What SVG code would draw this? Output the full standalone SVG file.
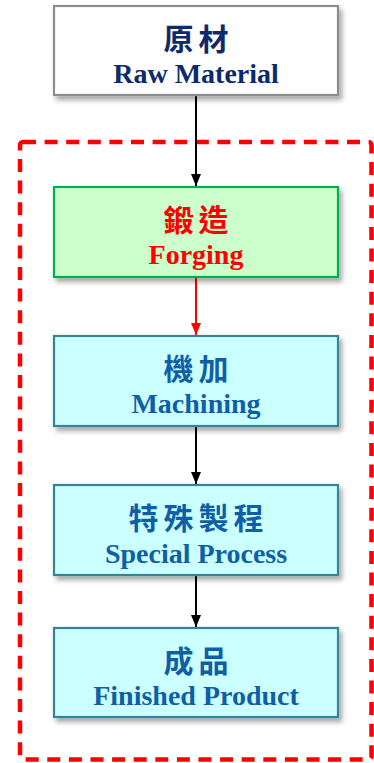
<svg xmlns="http://www.w3.org/2000/svg" width="374" height="763" viewBox="0 0 374 763">
<style>
.box{stroke-width:2.2;filter:url(#sh)}
.zh{font-family:"Noto Sans CJK TC","Noto Sans CJK SC",sans-serif;font-weight:700;font-size:30px;text-anchor:middle;letter-spacing:5px}
.en{font-family:"Liberation Serif","Times New Roman",serif;font-weight:700;font-size:28px;text-anchor:middle}
.blue{fill:#0f5fa6}
.conn{stroke-width:2;fill:none}
</style>
<defs>
<filter id="sh" x="-10%" y="-10%" width="125%" height="130%">
<feDropShadow dx="3" dy="4" stdDeviation="2.5" flood-color="#000" flood-opacity="0.35"/>
</filter>
<marker id="ab" markerWidth="10" markerHeight="12" refX="5" refY="12" markerUnits="userSpaceOnUse" viewBox="0 0 10 12">
<path d="M0,0 L10,0 L5,12 Z" fill="#000"/>
</marker>
<marker id="ar" markerWidth="10" markerHeight="12" refX="5" refY="12" markerUnits="userSpaceOnUse" viewBox="0 0 10 12">
<path d="M0,0 L10,0 L5,12 Z" fill="#ff0000"/>
</marker>
</defs>
<rect id="scope" x="20" y="142" width="351.5" height="617.5" rx="3" fill="none" stroke="#ff0000" stroke-width="4.5" stroke-dasharray="13 8.6"/>
<g id="connectors">
<line class="conn" x1="196" y1="96" x2="196" y2="186" stroke="#000" marker-end="url(#ab)"/>
<line class="conn" x1="196" y1="278" x2="196" y2="335" stroke="#ff0000" marker-end="url(#ar)"/>
<line class="conn" x1="196" y1="427" x2="196" y2="484" stroke="#000" marker-end="url(#ab)"/>
<line class="conn" x1="196" y1="576" x2="196" y2="627" stroke="#000" marker-end="url(#ab)"/>
</g>
<g id="raw">
<rect class="box" x="54" y="6" width="284" height="89" fill="#ffffff" stroke="#8c8c8c"/>
<text class="zh" x="198.5" y="50" fill="#0d2a6b">原材</text>
<text class="en" x="196" y="83" fill="#0d2a6b">Raw Material</text>
</g>
<g id="forging">
<rect class="box" x="54" y="187" width="284" height="90" fill="#ccffcc" stroke="#00b050"/>
<text class="zh" x="198.5" y="231" fill="#ff0000">鍛造</text>
<text class="en" x="196" y="264" fill="#ff0000">Forging</text>
</g>
<g id="machining">
<rect class="box" x="54" y="336" width="284" height="90" fill="#ccffff" stroke="#31849b"/>
<text class="zh blue" x="198.5" y="380">機加</text>
<text class="en blue" x="196" y="413">Machining</text>
</g>
<g id="special">
<rect class="box" x="54" y="485" width="284" height="90" fill="#ccffff" stroke="#31849b"/>
<text class="zh blue" x="198.5" y="529">特殊製程</text>
<text class="en blue" x="196" y="563">Special Process</text>
</g>
<g id="finished">
<rect class="box" x="54" y="628" width="284" height="89" fill="#ccffff" stroke="#31849b"/>
<text class="zh blue" x="198.5" y="672">成品</text>
<text class="en blue" x="196" y="705">Finished Product</text>
</g>
</svg>
